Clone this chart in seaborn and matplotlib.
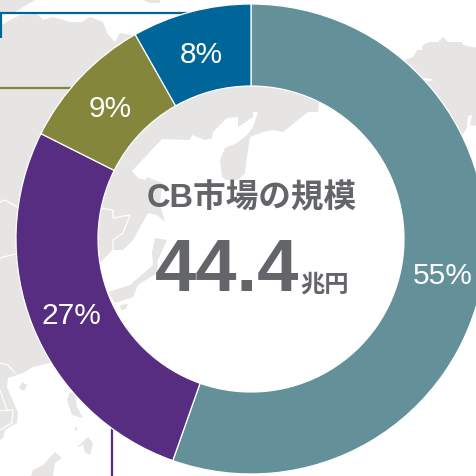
import matplotlib
matplotlib.use("Agg")
import matplotlib.pyplot as plt
import seaborn as sns
from matplotlib.patches import Polygon

sns.set_theme(style="white")
LATIN_CJK = ["Liberation Sans", "Noto Sans CJK JP"]
plt.rcParams["font.family"] = LATIN_CJK

# Data
segment_shares = [55.4, 27.0, 9.4, 8.2]
segment_colors = ["#64909A", "#572D82", "#84873B", "#006699"]
title_text = "CB市場の規模"
total_text = "44.4"
unit_text = "兆円"

# Background map (pixel outlines of the decorative land shapes)
LAND = "#E6E5E4"
land_main = [(0,25),(2,25),(10,20),(20,15),(37,14),(43,20),(53,17),(70,22),(82,22),(90,17),(103,22),
             (107,33),(115,42),(120,33),(135,36),(200,50),(300,50),(320,95),(318,112),(308,112),
             (283,132),(273,130),(263,132),(250,137),(247,157),(245,173),(238,180),(226,180),(222,177),
             (220,160),(225,148),(237,143),(247,135),(253,127),(258,112),(253,112),(253,117),(238,127),
             (238,117),(227,118),(213,132),(212,138),(205,140),(192,135),(190,140),(162,139),(132,171),
             (138,178),(145,180),(147,177),(162,183),(160,205),(165,222),(157,215),(148,213),(133,240),
             (123,250),(113,250),(100,264),(70,300),(70,360),(50,363),(33,367),(23,373),(8,378),(7,387),
             (18,413),(17,423),(5,430),(3,438),(0,440)]
land_shapes = [
    land_main,
    [(0,0),(35,0),(15,12),(0,12)],
    [(143,0),(150,3),(160,3),(160,0)],
    [(395,70),(405,60),(413,57),(417,50),(422,50),(423,45),(430,42),(438,42),(443,37),(448,42),(462,42),
     (463,45),(477,48),(477,126),(470,125),(472,115),(468,116),(467,128),(462,135),(464,150),(440,150)],
    [(167,240),(155,238),(152,252),(153,265),(130,285),(108,292),(115,303),(133,297),(138,285),(157,273),(158,260)],
    [(120,305),(128,304),(126,309),(121,310)],
    [(22,382),(27,385),(24,391),(19,388)],
    [(70,392),(67,400),(72,415),(83,418),(77,407),(75,395)],
    [(75,426),(78,429),(75,431)],
    [(88,437),(93,443),(90,455),(85,452),(83,445),(77,447)],
    [(55,452),(62,458),(55,463),(53,476),(31,476),(33,470),(43,465)],
]
water_shapes = [[(423,78),(432,79),(433,81),(426,81)]]
border_lines = [
    [(0,202),(5,200),(17,207)],
    [(0,258),(15,254)],
    [(100,208),(113,210),(113,218),(130,215),(123,233),(113,240),(113,250),(100,264)],
    [(0,363),(8,365),(15,373)],
    [(0,390),(7,410),(13,410),(12,423),(0,430)],
    [(0,410),(7,410)],
]
leader_lines = [
    ([(1,38),(1,13),(195,13)], "#006699"),
    ([(0,88),(75,88)], "#84873B"),
    ([(112,476),(112,425)], "#572D82"),
]

W, H = 477, 476
fig = plt.figure(figsize=(W/100, H/100), dpi=100, facecolor="white")
ax = fig.add_axes([0, 0, 1, 1])


def flip(points):
    return [(x, H - y) for x, y in points]


for shape in land_shapes:
    ax.add_patch(Polygon(flip(shape), closed=True, fc=LAND, ec="none", zorder=1))
for shape in water_shapes:
    ax.add_patch(Polygon(flip(shape), closed=True, fc="white", ec="none", zorder=2))
for line in border_lines:
    xs, ys = zip(*flip(line))
    ax.plot(xs, ys, color="white", lw=0.9, zorder=2, solid_joinstyle="miter")
for line, col in leader_lines:
    xs, ys = zip(*flip(line))
    ax.plot(xs, ys, color=col, lw=1.6, zorder=3, solid_capstyle="butt", solid_joinstyle="miter")

wedges, _, autotexts = ax.pie(
    segment_shares,
    colors=sns.color_palette(segment_colors),
    startangle=90,
    counterclock=False,
    center=(251, H - 239),
    radius=235,
    autopct="%.0f%%",
    pctdistance=0.826,
    frame=True,
    wedgeprops=dict(width=82, edgecolor="white", linewidth=0.9),
    textprops=dict(color="white", fontsize=21.5, family=LATIN_CJK),
)
for w in wedges:
    w.set_zorder(4)
for t in autotexts:
    t.set_zorder(5)
    x, y = t.get_position()
    t.set_position((x, y - 4))

text_color = "#636569"
bold = dict(color=text_color, fontweight="bold", zorder=6, family=LATIN_CJK)
ax.text(251.5, H - 199, title_text, fontsize=23.5, ha="center", va="center", **bold)
total = ax.text(155, H - 291, total_text, fontsize=53.5, ha="left", va="baseline", **bold)
ax.text(300.5, H - 291, unit_text, fontsize=17.5, ha="left", va="baseline", **bold)

ax.set_xlim(0, W)
ax.set_ylim(0, H)
ax.set_aspect("equal")
ax.axis("off")
fig.savefig("out.png", dpi=100, facecolor="white")
